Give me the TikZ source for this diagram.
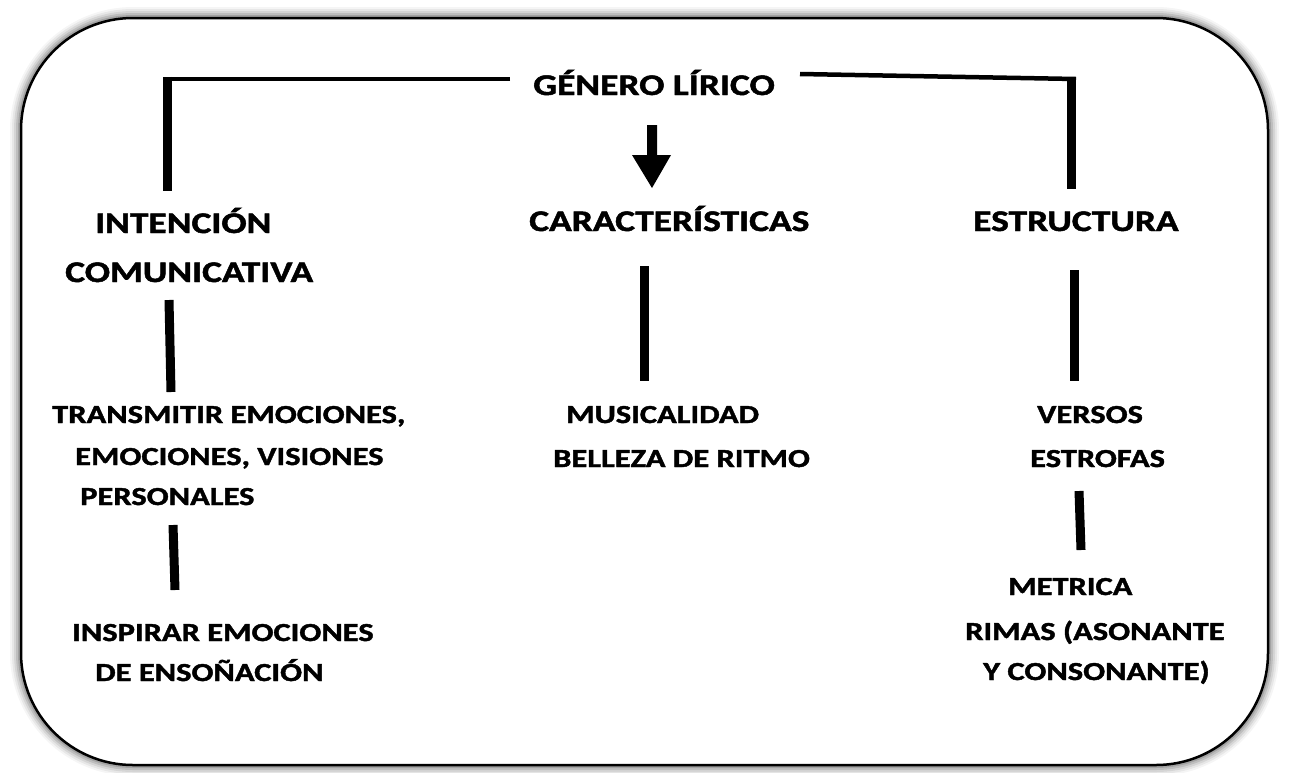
\documentclass[tikz,border=0pt]{standalone}
\usepackage{fontspec}
\setmainfont{Carlito}[FakeStretch=1.25, BoldFeatures={FakeBold=1.6}]
\tikzset{
  lab/.style={font=\fontsize{30}{36}\selectfont\bfseries, inner sep=0pt, anchor=base west},
  sub/.style={font=\fontsize{26}{32}\selectfont\bfseries, inner sep=0pt, anchor=base west},
  link/.style={line width=4.5pt},
  vlink/.style={line width=9pt},
}
\begin{document}
\begin{tikzpicture}[x=1pt,y=-1pt]
\useasboundingbox (0,0) rectangle (1289,772);
% shadow
\foreach \w/\o in {22/0.04,18/0.06,14/0.08,10/0.11,6/0.14}{
  \draw[line width=\w pt, black, opacity=\o, rounded corners=112pt] (21,18) rectangle (1268,765);
}
\fill[white, rounded corners=112pt] (21,18) rectangle (1268,765);
\draw[line width=2.5pt, rounded corners=112pt] (21,18) rectangle (1268,765);

% texts
\node[lab] (gen) at (533,95) {GÉNERO LÍRICO};
\node[lab] (int1) at (95,233) {INTENCIÓN};
\node[lab] (int2) at (65,282) {COMUNICATIVA};
\node[lab] (car) at (529,231) {CARACTERÍSTICAS};
\node[lab] (est) at (973,231) {ESTRUCTURA};
\node[sub] (t1) at (52,423) {TRANSMITIR EMOCIONES,};
\node[sub] (t2) at (75,465) {EMOCIONES, VISIONES};
\node[sub] (t3) at (80,505) {PERSONALES};
\node[sub] (i1) at (72,641) {INSPIRAR EMOCIONES};
\node[sub] (i2) at (95,681) {DE ENSOÑACIÓN};
\node[sub] (m1) at (566,423) {MUSICALIDAD};
\node[sub] (m2) at (553,467) {BELLEZA DE RITMO};
\node[sub] (v1) at (1037,423) {VERSOS};
\node[sub] (v2) at (1030,467) {ESTROFAS};
\node[sub] (r1) at (1008,595) {METRICA};
\node[sub] (r2) at (965,640) {RIMAS (ASONANTE};
\node[sub] (r3) at (983,680) {Y CONSONANTE)};

% connectors
\coordinate (a1) at (510,79);
\coordinate (a2) at (162.5,79);
\coordinate (a2v) at (167,76.75);
\coordinate (a3) at (167,191);
\draw[link] (a1) -- (a2);
\draw[vlink] (a2v) -- (a3);
\coordinate (b1) at (800,74);
\coordinate (b2) at (1076,79);
\coordinate (b2v) at (1071.5,76.75);
\coordinate (b3) at (1071.5,189);
\draw[link] (b1) -- (b2);
\draw[vlink] (b2v) -- (b3);
% arrow
\fill (647,125) -- (657,125) -- (657,155) -- (671,155) -- (652,188) -- (632,155) -- (647,155) -- cycle;
\coordinate (c1) at (169,300); \coordinate (c2) at (171,392);
\draw[vlink] (c1) -- (c2);
\coordinate (d1) at (173,525); \coordinate (d2) at (175,590);
\draw[vlink] (d1) -- (d2);
\coordinate (e1) at (644,266); \coordinate (e2) at (644,381);
\draw[vlink] (e1) -- (e2);
\coordinate (f1) at (1074,270); \coordinate (f2) at (1074,381);
\draw[vlink] (f1) -- (f2);
\coordinate (g1) at (1079,491); \coordinate (g2) at (1081,550);
\draw[vlink] (g1) -- (g2);
\end{tikzpicture}
\end{document}
